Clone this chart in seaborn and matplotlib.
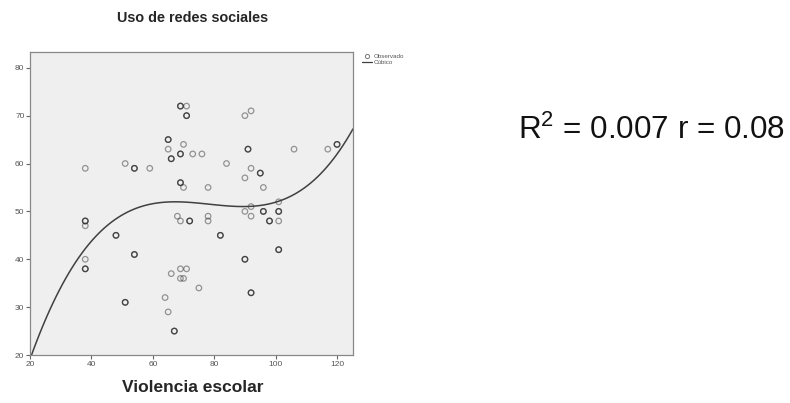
import numpy as np
import pandas as pd
import matplotlib
matplotlib.use("Agg")
import matplotlib.pyplot as plt
import seaborn as sns
from matplotlib.lines import Line2D

# ---- data ----
# observed cases (x = Violencia escolar, y = Uso de redes sociales)
violencia = [69, 71, 71, 65, 65, 70, 69, 73, 76, 66,
             38, 51, 54, 59, 69, 70, 68, 69, 72, 38, 38,
             48, 54, 38, 38, 69, 71, 66, 69, 70, 75, 64,
             51, 65, 67, 90, 92, 91, 106, 117, 120, 84, 92,
             90, 95, 96, 78, 92, 101, 90, 92, 96, 101, 98,
             101, 78, 78, 82, 101, 90, 92]
redes = [72, 72, 70, 65, 63, 64, 62, 62, 62, 61,
         59, 60, 59, 59, 56, 55, 49, 48, 48, 48, 47,
         45, 41, 40, 38, 38, 38, 37, 36, 36, 34, 32,
         31, 29, 25, 70, 71, 63, 63, 63, 64, 60, 59,
         57, 58, 55, 55, 51, 52, 50, 49, 50, 50, 48,
         48, 49, 48, 45, 42, 40, 33]
# number of cases at each marker (darker markers = overlapping cases)
casos = [3, 1, 3, 3, 1, 1, 3, 1, 1, 3,
         1, 1, 3, 1, 3, 1, 1, 1, 3, 3, 1,
         3, 3, 1, 3, 1, 1, 1, 1, 1, 1, 1,
         3, 1, 3, 1, 1, 3, 1, 1, 3, 1, 1,
         1, 3, 1, 1, 1, 1, 1, 1, 3, 3, 3,
         1, 1, 1, 3, 3, 3, 3]

titulo = "Uso de redes sociales"
etiqueta_x = "Violencia escolar"
x_ticks = [20, 40, 60, 80, 100, 120]
y_ticks = [20, 30, 40, 50, 60, 70, 80]
leyenda = ["Observado", "Cúbico"]
estadistico = "R$^2$ = 0.007 r = 0.08"

df = pd.DataFrame({"violencia": violencia, "redes": redes, "casos": casos})
df = df.loc[df.index.repeat(df["casos"])].reset_index(drop=True)

sns.set_style("white")
plt.rcParams["font.family"] = ["Liberation Sans", "DejaVu Sans"]
plt.rcParams["mathtext.fontset"] = "custom"
plt.rcParams["mathtext.rm"] = "Liberation Sans"
plt.rcParams["mathtext.it"] = "Liberation Sans"

fig = plt.figure(figsize=(7.9, 4.03), dpi=100)
ax = fig.add_axes([30 / 790, 48 / 403, 323 / 790, 303 / 403])
ax.set_facecolor("#efefef")

ax.set_xlim(20, 125.2)
ax.set_ylim(20, 83.3)

sns.scatterplot(data=df, x="violencia", y="redes", ax=ax, marker="o",
                facecolor="none", edgecolor="#222222", alpha=0.45,
                linewidth=0.9, s=16, legend=False)
sns.regplot(data=df, x="violencia", y="redes", ax=ax, order=3, ci=None,
            scatter=False, truncate=False,
            line_kws={"color": "#404040", "linewidth": 1.1})
ax.set_xlim(20, 125.2)
ax.set_ylim(20, 83.3)

ax.set_xticks(x_ticks)
ax.set_yticks(y_ticks)
ax.tick_params(axis="both", which="major", direction="out", length=3,
               width=0.8, color="#666666", labelsize=6,
               labelcolor="#555555", pad=1, bottom=True, left=True)
for sp in ax.spines.values():
    sp.set_color("#888888")
    sp.set_linewidth(0.9)

ax.set_xlabel("")
ax.set_ylabel("")
fig.text(193 / 790, 1 - 18 / 403, titulo, ha="center", va="center",
         fontsize=10.4, fontweight="bold")
fig.text(193 / 790, 1 - 388 / 403, etiqueta_x, ha="center", va="center",
         fontsize=12.5, fontweight="bold")

handles = [Line2D([], [], marker="o", linestyle="none", markerfacecolor="none",
                  markeredgecolor="#777777", markersize=3, markeredgewidth=0.7),
           Line2D([], [], color="#404040", linewidth=0.9)]
fig.legend(handles, leyenda, loc="upper left",
           bbox_to_anchor=(358 / 790, 1 - 50 / 403), frameon=False,
           fontsize=4.5, handlelength=1.6, handletextpad=0.3,
           labelspacing=0.1, borderpad=0.1, labelcolor="#555555")

fig.text(518 / 790, 1 - 130 / 403, estadistico, ha="left", va="center",
         fontsize=22.6, color="#111111")

fig.savefig("out.png", dpi=100)
